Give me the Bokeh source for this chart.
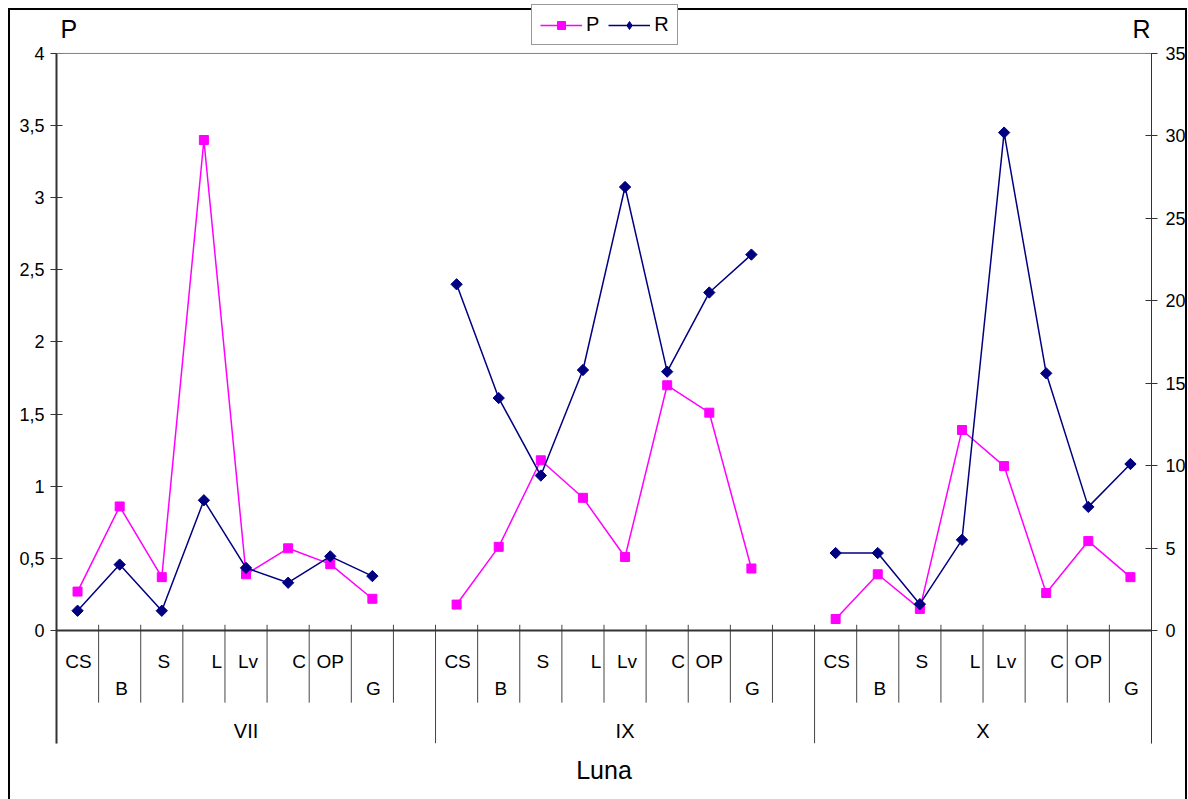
import math
from bokeh.plotting import figure
from bokeh.models import (Range1d, LinearAxis, FixedTicker, Span, Label, Legend,
                          LegendItem, ColumnDataSource)
from bokeh.core.properties import value
from bokeh.embed import file_html
from bokeh.resources import INLINE

# ---- data -------------------------------------------------------------
months = ["VII", "IX", "X"]
sites = ["CS", "B", "S", "L", "Lv", "C", "OP", "G"]
slots_per_month = [9, 9, 8]          # last block has no trailing spacer

p_vii = [0.27, 0.86, 0.37, 3.40, 0.39, 0.57, 0.46, 0.22]
p_ix = [0.18, 0.58, 1.18, 0.92, 0.51, 1.70, 1.51, 0.43]
p_x = [0.08, 0.39, 0.15, 1.39, 1.14, 0.26, 0.62, 0.37]

r_vii = [1.2, 4.0, 1.2, 7.9, 3.8, 2.9, 4.5, 3.3]
r_ix = [21.0, 14.1, 9.4, 15.8, 26.9, 15.7, 20.5, 22.8]
r_x = [4.7, 4.7, 1.6, 5.5, 30.2, 15.6, 7.5, 10.1]

p_ticks = [0, 0.5, 1, 1.5, 2, 2.5, 3, 3.5, 4]
p_tick_labels = ["0", "0,5", "1", "1,5", "2", "2,5", "3", "3,5", "4"]
r_ticks = [0, 5, 10, 15, 20, 25, 30, 35]
r_tick_labels = ["0", "5", "10", "15", "20", "25", "30", "35"]

p_series = [p_vii, p_ix, p_x]
r_series = [r_vii, r_ix, r_x]

# ---- styling ----------------------------------------------------------
FONT = "Liberation Sans"
P_COLOR = "#FF00FF"
R_COLOR = "#000080"
AXIS_COLOR = "#333333"
label_row = {"B": 1, "G": 1}
label_dx = {"CS": 1, "B": 2, "S": 2, "L": 13, "Lv": 2, "C": 11, "OP": 0, "G": 1}

n_slots = sum(slots_per_month)
P_AXIS_MAX = 4.0
R_AXIS_MAX = 35.0
R_PER_P = R_AXIS_MAX / P_AXIS_MAX
# the frame reaches from the canvas top down to the group labels,
# so titles and legend sit inside it
P_MIN, P_TOP = -0.783, 4.367
R_MIN, R_TOP = P_MIN * R_PER_P, P_TOP * R_PER_P

# chart border painted behind the (transparent) canvas
chart_border = ("linear-gradient(#000,#000) 8px 8px / 1179px 2px no-repeat, "
                "linear-gradient(#000,#000) 8px 8px / 2px 800px no-repeat, "
                "linear-gradient(#000,#000) 1185px 8px / 2px 800px no-repeat, #ffffff")

p = figure(width=1188, height=799, x_range=Range1d(0, n_slots),
           y_range=Range1d(P_MIN, P_TOP), x_axis_type=None,
           output_backend="svg", toolbar_location=None,
           min_border_left=56, min_border_right=37,
           min_border_top=0, min_border_bottom=56,
           background_fill_alpha=0, border_fill_alpha=0,
           styles={"background": chart_border})
p.outline_line_color = None
p.grid.visible = False
p.extra_y_ranges = {"r": Range1d(R_MIN, R_TOP)}

# left axis (P)
ya = p.yaxis[0]
ya.bounds = (P_MIN, P_AXIS_MAX)
ya.ticker = FixedTicker(ticks=p_ticks)
ya.major_label_overrides = {t: s for t, s in zip(p_ticks, p_tick_labels)}
ya.minor_tick_line_color = None
ya.major_tick_in = 6
ya.major_tick_out = 6
ya.major_label_standoff = 6
ya.axis_line_color = AXIS_COLOR
ya.axis_line_width = 2
ya.major_tick_line_color = AXIS_COLOR
ya.major_label_text_font = FONT
ya.major_label_text_font_size = "18px"
ya.major_label_text_color = "black"

# right axis (R)
ra = LinearAxis(y_range_name="r", ticker=FixedTicker(ticks=r_ticks),
                bounds=(R_MIN, R_AXIS_MAX))
ra.major_label_overrides = {t: s for t, s in zip(r_ticks, r_tick_labels)}
ra.minor_tick_line_color = None
ra.major_tick_in = 6
ra.major_tick_out = 6
ra.major_label_standoff = 8
ra.axis_line_color = AXIS_COLOR
ra.axis_line_width = 1
ra.major_tick_line_color = AXIS_COLOR
ra.major_label_text_font = FONT
ra.major_label_text_font_size = "18px"
ra.major_label_text_color = "black"
p.add_layout(ra, "right")

# x title carried by an otherwise bare bottom axis
xa = LinearAxis(ticker=FixedTicker(ticks=[]), axis_label="Luna",
                axis_line_color=None, major_tick_line_color=None,
                minor_tick_line_color=None, major_label_text_font_size="0px",
                axis_label_text_font=FONT, axis_label_text_font_size="25px",
                axis_label_text_font_style="normal", axis_label_text_color="black",
                axis_label_standoff=12)
p.add_layout(xa, "below")

# plot-area top edge and category axis line
p.add_layout(Span(location=P_AXIS_MAX, dimension="width", line_color="#808080", line_width=1))
p.add_layout(Span(location=0, dimension="width", line_color=AXIS_COLOR, line_width=2))

# category axis: boundaries, separators and labels
starts = [sum(slots_per_month[:g]) for g in range(len(months))]
group_edges = set(starts + [n_slots])
bx, by0, by1 = [], [], []
for k in range(n_slots + 1):
    bx.append(k)
    by0.append(0.04)
    by1.append(P_MIN if k in group_edges else -0.5)
p.segment(x0=bx, y0=by0, x1=bx, y1=by1, line_color="#444444", line_width=1)

lx, ly, lt, loff, lyoff = [], [], [], [], []
for g, m in enumerate(months):
    for i, s in enumerate(sites):
        lx.append(starts[g] + i + 0.5)
        ly.append(0)
        lt.append(s)
        loff.append(label_dx[s])
        lyoff.append(31 if label_row.get(s, 0) == 0 else 58)
p.text(x="x", y="y", text="t", x_offset="dx", y_offset="dy",
       source=ColumnDataSource(dict(x=lx, y=ly, t=lt, dx=loff, dy=lyoff)),
       text_font=value(FONT), text_font_size="19px", text_color="black",
       text_align="center", text_baseline="middle")

gx = [starts[g] + slots_per_month[g] / 2 for g in range(len(months))]
p.text(x=gx, y=[0] * len(months), text=months, y_offset=100,
       text_font=value(FONT), text_font_size="20px", text_color="black",
       text_align="center", text_baseline="middle")

# series: one polyline per month block
legend_r = {}
for g in range(len(months)):
    xs = [starts[g] + i + 0.5 for i in range(len(sites))]
    pl = p.line(xs, p_series[g], line_color=P_COLOR, line_width=1.5)
    ps = p.scatter(xs, p_series[g], marker="square", size=9,
                   fill_color=P_COLOR, line_color=P_COLOR)
    rl = p.line(xs, r_series[g], line_color=R_COLOR, line_width=1.5, y_range_name="r")
    p.scatter(xs, r_series[g], marker="square", size=8, angle=math.pi / 4,
              fill_color=R_COLOR, line_color=R_COLOR, y_range_name="r")
    if g == 0:
        # hidden diamond twin of the first R block, used only as legend swatch
        r_key = p.scatter(xs, r_series[g], marker="diamond", size=15,
                          fill_color=R_COLOR, line_color=R_COLOR,
                          y_range_name="r", visible=False)
        legend_r = {"P": [pl, ps], "R": [rl, r_key]}

legend = Legend(items=[LegendItem(label="P", renderers=legend_r["P"]),
                       LegendItem(label="R", renderers=legend_r["R"])],
                orientation="horizontal", location=(475, 698),
                padding=8, margin=0, spacing=9, glyph_width=42, glyph_height=20,
                label_standoff=4, label_width=12,
                label_text_font=FONT, label_text_font_size="20px",
                label_text_color="black", border_line_color="#333333",
                border_line_width=1, background_fill_color="white",
                background_fill_alpha=1)
p.add_layout(legend, "center")

# axis titles above the two value axes
p.add_layout(Label(x=0, y=P_AXIS_MAX, x_offset=4, y_offset=10, text="P",
                   text_font=FONT, text_font_size="25px", text_color="black",
                   text_align="left", text_baseline="bottom"))
p.add_layout(Label(x=n_slots, y=P_AXIS_MAX, x_offset=-1, y_offset=10, text="R",
                   text_font=FONT, text_font_size="25px", text_color="black",
                   text_align="right", text_baseline="bottom"))

open("out.html", "w").write(file_html(p, INLINE))
